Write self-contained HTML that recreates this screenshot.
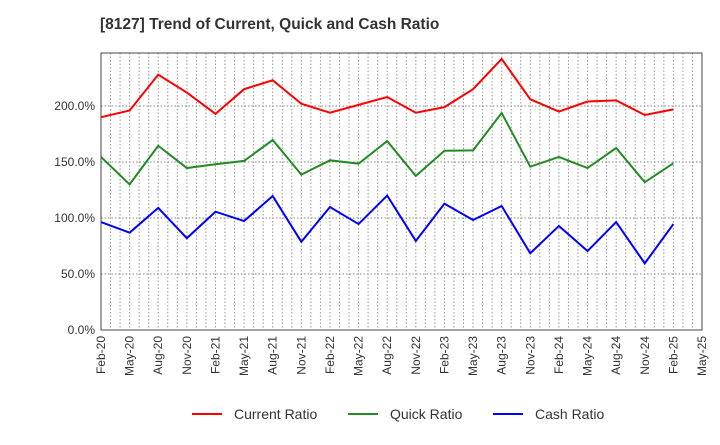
<!DOCTYPE html>
<html><head><meta charset="utf-8"><style>
body{margin:0;background:#fff}
svg text{font-family:"Liberation Sans",sans-serif}
</style></head><body>
<svg id="c" width="720" height="440" xmlns="http://www.w3.org/2000/svg">
<text x="100" y="29" font-size="15.5" font-weight="bold" fill="#333">[8127]  Trend of Current, Quick and Cash Ratio</text>
<g id="grid"></g><g id="axes"></g><g id="series"></g><g id="legend"></g>
</svg>
<script>
const categories=["Feb-20","May-20","Aug-20","Nov-20","Feb-21","May-21","Aug-21","Nov-21","Feb-22","May-22","Aug-22","Nov-22","Feb-23","May-23","Aug-23","Nov-23","Feb-24","May-24","Aug-24","Nov-24","Feb-25"];
const tickLabels=["Feb-20","May-20","Aug-20","Nov-20","Feb-21","May-21","Aug-21","Nov-21","Feb-22","May-22","Aug-22","Nov-22","Feb-23","May-23","Aug-23","Nov-23","Feb-24","May-24","Aug-24","Nov-24","Feb-25","May-25"];
const currentRatio=[190,196,228,212,193,215,223,202,194,201,208,194,199,215,242,206,195,204,205,192,197];
const quickRatio=[154.5,130,164.5,144.6,148,151,169.6,138.7,151.5,148.5,168.7,137.5,160,160.4,193.8,145.8,154.5,144.6,162.5,132,148.8];
const cashRatio=[96.4,86.9,109,82,105.6,97.3,119.6,78.8,109.8,94.6,120,79.5,112.8,98.2,110.7,68.5,92.9,70.5,96.4,59.5,94.6];
const yTicks=[0,50,100,150,200];
const NS="http://www.w3.org/2000/svg";
const L=101,R=702,T=53,B=330;
const monthW=(R-L)/63;
const xq=i=>L+i*3*monthW;
const y=v=>B-v*56/50;
function mk(tag,attrs,parent){const e=document.createElementNS(NS,tag);for(const k in attrs)e.setAttribute(k,attrs[k]);parent.appendChild(e);return e;}
const grid=document.getElementById('grid'),axes=document.getElementById('axes'),ser=document.getElementById('series'),leg=document.getElementById('legend');
for(let m=1;m<63;m++){const gl=mk('line',{x1:L+m*monthW,x2:L+m*monthW,y1:T,y2:B,stroke:'#999','stroke-dasharray':'1.5,2','stroke-width':1},grid);

}
yTicks.forEach(v=>{const gl=mk('line',{x1:L,x2:R,y1:y(v),y2:y(v),stroke:'#888','stroke-dasharray':'1.5,2','stroke-width':1},grid);


const t=mk('text',{x:L-6,y:y(v)+4,'text-anchor':'end','font-size':12,fill:'#333'},axes);t.textContent=v.toFixed(1)+'%';

});
const fr=mk('rect',{x:L,y:T,width:R-L,height:B-T,fill:'none',stroke:'#444','stroke-width':1},axes);


tickLabels.forEach((s,i)=>{const x=xq(i);const t=mk('text',{x:x+4,y:B+6,'text-anchor':'end','font-size':12,fill:'#333',transform:`rotate(-90 ${x+4} ${B+6})`},axes);t.textContent=s;

});
const series=[["current-ratio-line",currentRatio,"#ff0000","Current Ratio"],["quick-ratio-line",quickRatio,"#228b22","Quick Ratio"],["cash-ratio-line",cashRatio,"#0000ff","Cash Ratio"]];
series.forEach(([n,d,c])=>{const p=mk('polyline',{points:d.map((v,i)=>xq(i)+','+y(v)).join(' '),fill:'none',stroke:c,'stroke-width':2},ser);

});
const lx=[192,348,493];
series.forEach(([n,d,c,lab],i)=>{const ln=mk('line',{x1:lx[i],x2:lx[i]+30,y1:414,y2:414,stroke:c,'stroke-width':2},leg);


const t=mk('text',{x:lx[i]+42,y:419,'font-size':14,fill:'#333'},leg);t.textContent=lab;

});
</script>
</body></html>
